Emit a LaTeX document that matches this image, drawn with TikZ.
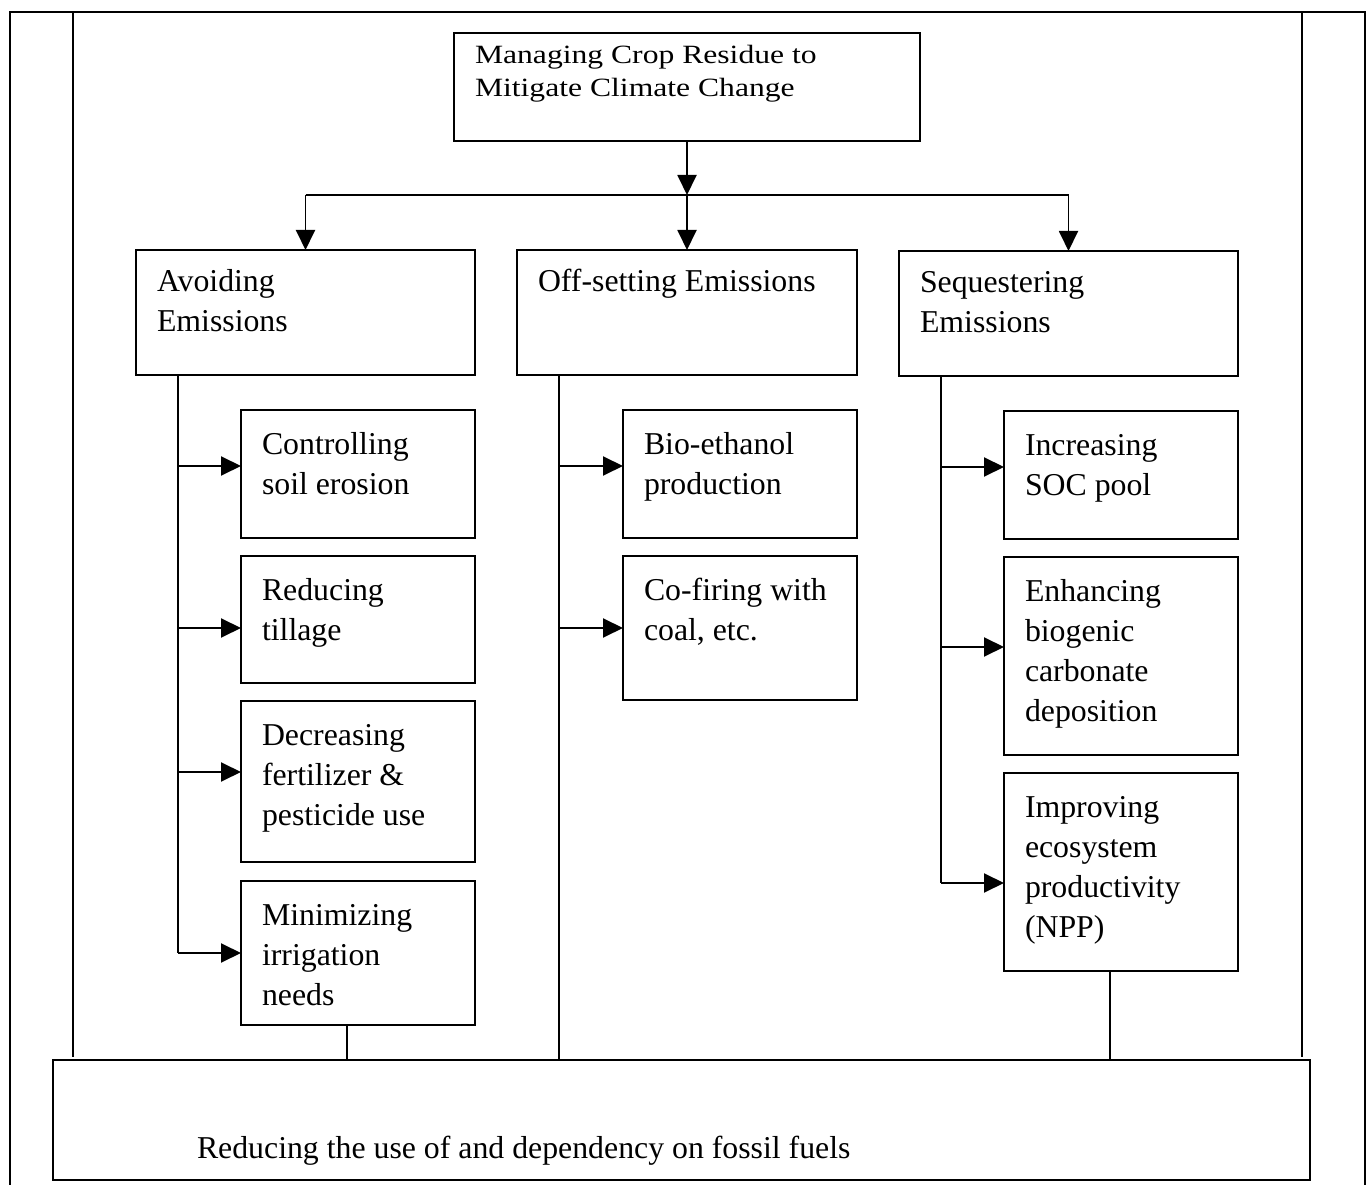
\documentclass[tikz,border=0pt]{standalone}
\usepackage{fontspec}
\setmainfont{Liberation Serif}
\newfontfamily\titlefont[FakeStretch=1.2]{Liberation Serif}
\usetikzlibrary{positioning,calc,arrows.meta}
\newlength\pxu
\setlength\pxu{0.02cm}
% box text: [left pad] {top pad} {width} {height} {text}
\newcommand{\boxtext}[5][21]{\parbox[t][#4\pxu][t]{#3\pxu}{\vspace*{#2\pxu}\raggedright\leftskip=#1\pxu\strut #5}}

\begin{document}
\begin{tikzpicture}[x=0.02cm,y=-0.02cm,line width=1.1pt,
  card/.style={draw,anchor=north west,inner sep=0pt,outer sep=0pt,font=\fontsize{18.1}{22.8}\selectfont},
  arr/.style={-{Triangle[length=0.4cm,width=0.38cm]}},
  frame/.style={line width=0.8pt}]
  \useasboundingbox (0,0) rectangle (1370,1185);
  % page frame
  \draw[frame] (10,1185) -- (10,12) -- (1365,12) -- (1365,1185);
  \draw[frame] (73,12) -- (73,1057);
  \draw[frame] (1302,12) -- (1302,1057);
  % title + three strategies
  \node[card,font=\titlefont\fontsize{15}{18.8}\selectfont] (title) at (454,33) {\boxtext{7}{466}{108}{Managing Crop Residue to\\Mitigate Climate Change}};
  \node[card] (avoid) at (136,250) {\boxtext{13}{339}{125}{Avoiding\\Emissions}};
  \node[card] (offset) at (517,250) {\boxtext{13}{340}{125}{Off-setting Emissions}};
  \node[card] (seq) at (899,251) {\boxtext{13}{339}{125}{Sequestering\\Emissions}};
  % avoiding
  \node[card] (soil) at (241,410) {\boxtext{16}{234}{128}{Controlling\\soil erosion}};
  \node[card] (tillage) at (241,556) {\boxtext{16}{234}{127}{Reducing\\tillage}};
  \node[card] (fert) at (241,701) {\boxtext{16}{234}{161}{Decreasing\\fertilizer \&\\pesticide use}};
  \node[card] (irrig) at (241,881) {\boxtext{16}{234}{144}{Minimizing\\irrigation\\needs}};
  % off-setting
  \node[card] (ethanol) at (623,410) {\boxtext{16}{234}{128}{Bio-ethanol\\production}};
  \node[card] (cofire) at (623,556) {\boxtext{16}{234}{144}{Co-firing with\\coal, etc.}};
  % sequestering
  \node[card] (soc) at (1004,411) {\boxtext{16}{234}{128}{Increasing\\SOC pool}};
  \node[card] (carb) at (1004,557) {\boxtext{16}{234}{198}{Enhancing\\biogenic\\carbonate\\deposition}};
  \node[card] (npp) at (1004,773) {\boxtext{16}{234}{198}{Improving\\ecosystem\\productivity\\(NPP)}};
  % common outcome
  \node[card] (fossil) at (53,1060) {\boxtext[144]{70}{1257}{120}{Reducing the use of and dependency on fossil fuels}};
  % title to strategies
  \coordinate (bus) at ($(title.south)+(0,54)$);
  \draw[arr] (title.south) -- (bus);
  \draw (bus -| avoid.north) -- (bus -| seq.north);
  \foreach \n in {avoid,offset,seq}{\draw[arr] (bus -| \n.north) -- (\n.north);}
  % trunks
  \coordinate (lt) at ($(avoid.south west)+(42,0)$);
  \coordinate (mt) at ($(offset.south west)+(42,0)$);
  \coordinate (rt) at ($(seq.south west)+(42,0)$);
  \draw (lt) -- (lt |- 0,953);
  \draw (mt) -- (mt |- fossil.north);
  \draw (rt) -- (rt |- 0,883);
  \foreach \n/\y in {soil/466,tillage/628,fert/772,irrig/953}{\draw[arr] (lt |- 0,\y) -- (\n.west |- 0,\y);}
  \foreach \n/\y in {ethanol/466,cofire/628}{\draw[arr] (mt |- 0,\y) -- (\n.west |- 0,\y);}
  \foreach \n/\y in {soc/467,carb/647,npp/883}{\draw[arr] (rt |- 0,\y) -- (\n.west |- 0,\y);}
  % down to the outcome box
  \coordinate (lf) at ($(irrig.south)+(-11,0)$);
  \coordinate (rf) at ($(npp.south)+(-11,0)$);
  \draw (lf) -- (lf |- fossil.north);
  \draw (rf) -- (rf |- fossil.north);
\end{tikzpicture}
\end{document}
